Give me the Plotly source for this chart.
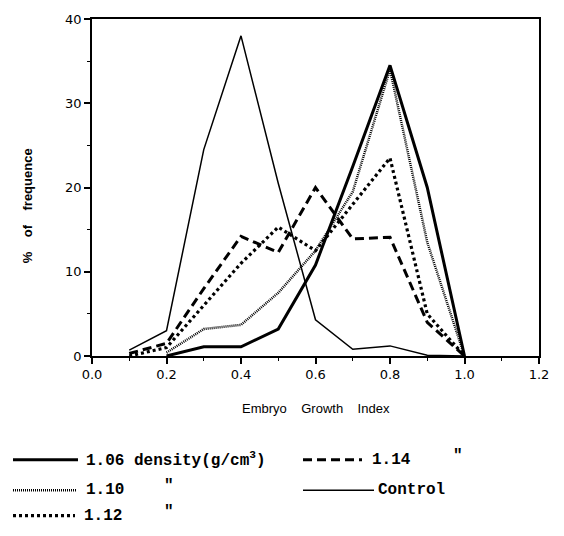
import plotly.graph_objects as go

# ---- data ----
growth_index = [0.1, 0.2, 0.3, 0.4, 0.5, 0.6, 0.7, 0.8, 0.9, 1.0]
d106 = [None, 0.0, 1.1, 1.1, 3.2, 10.8, 22.5, 34.5, 20.0, 0.0]
d110 = [None, 0.4, 3.2, 3.7, 7.5, 12.5, 19.5, 34.0, 13.5, 0.0]
d112 = [0.0, 1.0, 6.0, 11.0, 15.3, 12.5, 18.0, 23.5, 5.0, 0.0]
d114 = [0.3, 1.5, 8.0, 14.2, 12.3, 20.0, 13.9, 14.1, 4.0, 0.0]
control = [0.7, 3.0, 24.5, 38.0, 20.5, 4.3, 0.8, 1.2, 0.1, 0.0]

x_ticks = [0.0, 0.2, 0.4, 0.6, 0.8, 1.0, 1.2]
x_tick_labels = ["0.0", "0.2", "0.4", "0.6", "0.8", "1.0", "1.2"]
y_ticks = [0, 10, 20, 30, 40]

series_names = ["1.06 density(g/cm<sup>3</sup>)", "1.10", "1.12", "1.14", "Control"]

styles = [
    dict(width=3, dash="solid"),
    dict(width=2.5, dash="1px,1px"),
    dict(width=3.2, dash="3px,3px"),
    dict(width=3, dash="9px,5px"),
    dict(width=1.5, dash="solid"),
]

fig = go.Figure()
for name, ys, st in zip(series_names, [d106, d110, d112, d114, control], styles):
    fig.add_trace(go.Scatter(
        x=growth_index, y=ys, mode="lines", name=name,
        line=dict(color="black", width=st["width"], dash=st["dash"]),
        connectgaps=False, showlegend=False,
    ))

tick_font = dict(family="DejaVu Sans", size=13, color="black")

fig.update_layout(
    width=564, height=536,
    margin=dict(l=92, r=25, t=12, b=180),
    paper_bgcolor="white", plot_bgcolor="white",
    showlegend=False,
    xaxis=dict(
        range=[0, 1.2], tickvals=x_ticks, ticktext=x_tick_labels,
        showgrid=False, zeroline=False, showline=True, linecolor="black",
        linewidth=1.5, mirror=True, ticks="outside", ticklen=6, tickwidth=1.5,
        tickcolor="black", tickfont=tick_font,
        minor=dict(tickvals=[0.1, 0.3, 0.5, 0.7, 0.9, 1.1], ticks="outside",
                   ticklen=3, tickcolor="black", tickwidth=1),
    ),
    yaxis=dict(
        range=[0, 40], tickvals=y_ticks,
        showgrid=False, zeroline=False, showline=True, linecolor="black",
        linewidth=1.5, mirror=True, ticks="outside", ticklen=6, tickwidth=1.5,
        tickcolor="black", tickfont=tick_font,
        minor=dict(tickvals=[5, 15, 25, 35], ticks="outside",
                   ticklen=3, tickcolor="black", tickwidth=1),
    ),
)

SP = "&nbsp;" * 4

# axis titles
fig.add_annotation(text="Embryo" + SP + "Growth" + SP + "Index", xref="paper", yref="paper",
                   x=0.5, y=-0.157, showarrow=False, xanchor="center", yanchor="middle",
                   font=dict(family="Liberation Sans", size=13, color="black"))
fig.add_annotation(text="<b>%" + SP + "of" + SP + "frequence</b>", xref="paper", yref="paper",
                   x=-0.145, y=0.445, showarrow=False, textangle=-90,
                   xanchor="center", yanchor="middle",
                   font=dict(family="Liberation Sans", size=13, color="black"))

# manual legend
def px_x(px):
    return (px - 92) / 447.0

def px_y(py):
    return (356 - py) / 344.0

legend_items = [
    # (series index, x0, x1, text x, row y, quote x)
    (0, 13, 78, 84, 462, None),
    (3, 303, 362, 370, 462, 451),
    (1, 13, 77, 84, 493, 162),
    (4, 303, 374, 376, 493, None),
    (2, 13, 75, 82, 519, 162),
]
leg_font = dict(family="Liberation Mono", size=16, color="black")
for idx, x0, x1, tx, ry, qx in legend_items:
    st = styles[idx]
    fig.add_shape(type="line", xref="paper", yref="paper",
                  x0=px_x(x0), x1=px_x(x1), y0=px_y(ry), y1=px_y(ry),
                  line=dict(color="black", width=st["width"], dash=st["dash"]))
    fig.add_annotation(text="<b>" + series_names[idx] + "</b>", xref="paper", yref="paper",
                       x=px_x(tx), y=px_y(ry), showarrow=False,
                       xanchor="left", yanchor="middle", font=leg_font)
    if qx is not None:
        fig.add_annotation(text='<b>"</b>', xref="paper", yref="paper",
                           x=px_x(qx), y=px_y(ry - 4), showarrow=False,
                           xanchor="left", yanchor="middle", font=leg_font)

fig.write_html("out.html")
